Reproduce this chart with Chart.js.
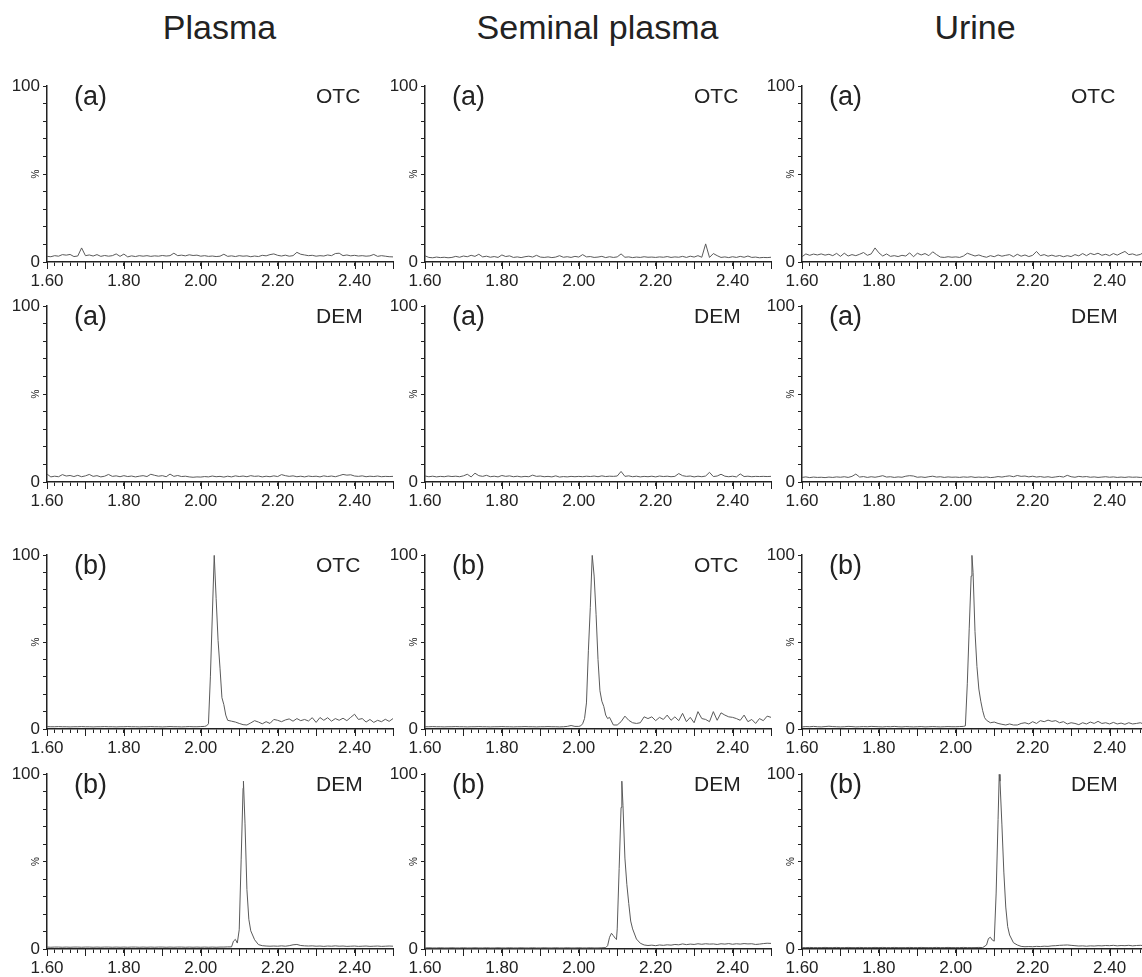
<!DOCTYPE html>
<html>
<head>
<meta charset="utf-8">
<script src="https://cdn.jsdelivr.net/npm/chart.js@4"></script>
<style>
  body { margin: 0; width: 1142px; height: 977px; overflow: hidden; background: #fff; position: relative;
         font-family: "Liberation Sans", Arial, sans-serif; color: #222; }
  .title { position: absolute; top: 10px; width: 400px; text-align: center; font-size: 34px; line-height: 34px; }
  canvas { position: absolute; }
</style>
</head>
<body>
<script>
// retention time grid (min), 0.01 step
var rt = Array.from({ length: 91 }, (_, i) => +(1.6 + i * 0.01).toFixed(2));

var columnTitles = ['Plasma', 'Seminal plasma', 'Urine'];

// (a) blank samples, % intensity on rt grid
var plasmaOtcA = [3.2,3.0,3.6,3.3,4.2,3.9,4.3,3.1,3.4,8.0, 3.6,4.0,3.4,4.2,3.2,3.7,3.3,3.6,4.6,3.2,
  4.5,2.9,3.5,3.1,3.6,3.3,3.6,3.2,3.5,3.3, 3.7,3.4,3.6,5.0,3.6,3.9,3.5,4.1,3.7,3.9,
  3.3,3.6,3.2,3.4,3.1,3.3,4.4,3.2,3.5,3.1, 3.6,3.3,3.5,3.0,3.4,3.1,3.8,3.5,4.2,4.6,
  3.8,3.4,3.9,3.3,3.6,5.5,4.4,4.0,3.6,3.8, 3.3,3.6,3.4,4.0,3.6,4.8,5.0,3.6,4.0,3.5,
  3.8,3.4,3.6,3.3,3.5,4.3,3.2,3.6,3.3,3.0, 2.9];
var seminalOtcA = [3.5,2.6,2.4,2.8,2.5,2.7,2.4,2.6,3.2,2.7, 3.4,3.0,3.8,3.2,4.4,2.9,3.3,2.7,3.1,2.6,
  4.0,3.1,3.5,2.6,2.9,2.5,3.0,3.3,2.8,3.8, 2.8,2.6,2.9,2.5,2.8,3.6,2.7,3.0,2.6,3.2,
  2.8,4.2,2.9,3.1,2.6,2.8,3.2,2.5,3.0,2.6, 2.9,4.6,2.7,2.9,2.5,2.8,2.6,3.0,2.7,2.8,
  2.6,2.9,2.7,3.1,2.6,2.9,2.7,3.2,2.6,3.3, 2.8,3.6,2.7,10.3,2.6,4.8,3.6,2.6,2.9,2.5,
  3.0,2.6,3.2,2.7,3.4,2.6,2.8,2.4,2.6,2.5, 2.7];
var urineOtcA = [3.0,4.6,3.8,4.5,4.0,4.6,3.9,4.4,3.6,4.9, 3.2,5.0,3.4,4.2,3.6,4.4,5.4,3.8,4.6,8.0,
  5.2,3.4,4.6,3.2,3.6,3.1,3.8,3.4,5.2,3.0, 5.0,4.0,4.8,3.6,5.8,4.2,2.8,2.6,3.0,2.7,
  2.9,2.6,3.4,5.0,4.2,3.4,4.0,3.2,2.7,3.6, 3.0,4.0,3.3,3.8,4.2,3.0,4.4,3.3,4.0,3.1,
  3.8,6.0,3.6,4.2,3.3,3.9,3.2,3.7,3.0,3.6, 3.1,4.2,3.5,4.8,3.6,4.9,4.2,5.0,3.8,4.4,
  3.6,4.8,3.9,5.0,6.0,4.2,4.6,3.8,4.3,5.6, 5.0];
var plasmaDemA = [4.5,2.9,3.3,3.0,4.2,3.4,3.7,3.1,3.8,3.0, 3.5,4.3,3.2,3.6,2.9,3.3,4.3,3.2,3.5,3.0,
  3.6,3.1,3.4,2.9,3.3,3.6,3.1,4.4,3.8,3.3, 3.6,3.0,4.5,3.2,3.7,3.1,3.3,2.9,2.7,2.9,
  2.8,3.1,2.9,3.4,3.0,3.2,2.8,3.3,2.9,3.5, 3.1,3.4,3.0,3.6,3.2,3.4,2.9,3.3,3.0,3.5,
  3.1,4.2,3.6,3.2,3.5,3.0,3.3,2.9,3.4,3.1, 3.3,2.9,3.5,3.1,3.4,3.0,3.6,4.3,3.9,4.1,
  3.4,3.2,3.5,3.0,3.3,3.1,3.4,3.0,3.2,3.1, 3.2];
var seminalDemA = [3.4,3.0,3.3,2.9,3.2,3.0,3.4,3.1,3.3,3.0, 3.5,4.4,2.9,5.0,3.6,3.2,3.8,3.0,3.3,2.9,
  3.7,3.2,3.5,3.0,3.3,2.9,3.2,3.0,3.9,3.2, 3.4,3.0,3.2,2.9,3.5,2.8,3.1,2.9,3.2,3.0,
  3.2,3.0,3.3,3.1,3.4,3.0,3.5,3.1,3.3,3.2, 3.4,6.0,3.2,3.5,3.0,3.3,2.9,3.2,3.0,3.3,
  2.9,3.4,3.1,3.3,3.0,3.2,4.8,3.6,3.2,3.4, 2.9,3.3,3.0,3.4,5.5,3.1,3.4,4.4,3.3,3.0,
  3.3,2.9,4.6,3.1,3.3,3.0,3.2,3.1,3.2,3.1, 3.2];
var urineDemA = [2.6,2.9,2.5,2.8,2.6,2.7,2.5,2.8,2.6,2.9, 2.7,3.0,2.6,3.2,4.5,2.8,3.1,2.6,3.0,2.7,
  3.1,3.6,2.8,3.0,2.6,2.9,2.7,3.3,3.6,3.4, 2.7,2.9,2.6,3.0,3.3,2.8,3.0,2.6,2.9,2.7,
  2.8,2.6,2.9,2.7,3.0,2.6,2.8,2.6,2.9,2.5, 2.7,3.1,2.8,3.2,3.5,3.0,3.7,3.2,3.4,2.9,
  3.3,2.8,3.1,2.7,3.0,2.6,2.9,3.2,2.8,3.8, 3.0,2.7,3.2,2.9,3.1,2.7,2.9,2.6,2.8,3.0,
  2.7,2.9,2.6,2.8,2.6,2.9,2.7,2.8,2.6,2.7, 2.6];

// (b) spiked samples, % intensity on rt grid
var plasmaOtcB = [1.4,1.3,1.3,1.4,1.3,1.3,1.2,1.3,1.3,1.4, 1.3,1.3,1.2,1.3,1.3,1.4,1.3,1.3,1.2,1.3,
  1.3,1.4,1.3,1.3,1.2,1.3,1.3,1.4,1.3,1.3, 1.2,1.3,1.4,1.3,1.3,1.2,1.3,1.4,1.3,1.3,
  1.4,1.5,3.0,65,75,35,14,5.0,4.5,4.0, 3.2,2.5,2.3,3.5,4.8,4.0,3.0,4.2,3.2,5.5,
  5.0,4.2,5.2,5.8,4.5,6.0,4.8,5.5,4.6,6.5, 3.8,6.6,5.0,6.5,4.5,6.0,5.0,6.2,4.8,6.7,
  8.5,5.5,6.0,4.0,5.5,3.8,5.0,4.2,5.6,4.4, 6.0];
var seminalOtcB = [1.3,1.3,1.4,1.3,1.3,1.2,1.3,1.3,1.4,1.3, 1.3,1.2,1.3,1.3,1.4,1.3,1.3,1.2,1.3,1.3,
  1.4,1.3,1.3,1.2,1.3,1.3,1.4,1.3,1.3,1.2, 1.3,1.3,1.4,1.3,1.3,1.2,1.3,1.5,2.0,1.5,
  1.5,3.0,15,70,88,40,16,8.0,6.7,2.3, 2.3,4.2,7.4,5.0,3.6,3.2,3.6,7.0,6.0,7.0,
  4.8,6.7,5.5,8.0,5.0,7.0,4.8,9.0,4.2,6.7, 3.6,10,6.0,5.5,4.2,10,5.0,9.3,8.0,7.0,
  6.7,6.0,5.0,8.0,4.2,5.5,3.2,6.0,4.8,7.4, 6.7];
var urineOtcB = [1.2,1.4,1.3,1.5,1.3,1.2,1.4,1.6,1.4,1.3, 1.2,1.3,1.5,1.4,1.2,1.3,1.4,1.3,1.5,1.4,
  1.3,1.2,1.4,1.3,1.5,1.3,1.2,1.4,1.3,1.2, 1.3,1.4,1.2,1.3,1.4,1.3,1.2,1.3,1.4,1.3,
  1.3,1.4,1.5,26,88,56,23,10.5,5.0,3.6, 4.0,3.2,2.7,2.3,2.9,2.3,2.3,3.2,3.6,2.9,
  4.2,3.2,4.8,4.2,5.1,4.4,4.8,3.6,4.2,2.9, 3.6,3.2,2.5,3.6,2.9,4.0,3.2,4.4,3.2,3.6,
  2.9,3.8,2.9,3.4,2.7,3.6,2.9,3.2,3.6,2.7, 3.0];
var plasmaDemB = [1.1,1.0,1.1,1.1,1.0,1.1,1.0,1.1,1.1,1.0, 1.1,1.1,1.0,1.1,1.0,1.1,1.1,1.0,1.1,1.0,
  1.1,1.0,1.1,1.1,1.0,1.1,1.0,1.1,1.0,1.1, 1.1,1.0,1.1,1.0,1.1,1.1,1.0,1.1,1.0,1.1,
  1.0,1.1,1.0,1.1,1.0,1.1,1.1,1.2,1.2,5.5, 11,92,34,10.4,5.3,2.5,1.9,1.7,1.6,1.7,
  1.6,1.8,1.6,1.9,2.4,2.6,2.0,1.8,1.7,1.8, 1.6,1.7,1.5,1.7,1.6,1.8,1.6,1.7,1.5,1.6,
  1.7,1.5,1.6,1.7,1.5,1.6,1.7,1.5,1.6,1.7, 1.6];
var seminalDemB = [0.6,0.7,0.6,0.6,0.7,0.6,0.6,0.7,0.6,0.6, 0.7,0.6,0.6,0.7,0.6,0.6,0.7,0.6,0.6,0.7,
  0.6,0.6,0.7,0.6,0.6,0.7,0.6,0.6,0.7,0.6, 0.6,0.7,0.6,0.6,0.7,0.6,0.6,0.7,0.6,0.6,
  0.7,0.6,0.6,0.7,0.6,0.6,0.7,0.8,6.7,7.6, 11.5,81,52,26,11.5,5.7,3.3,2.3,2.0,2.2,
  1.9,2.3,2.1,2.4,2.2,2.6,2.4,2.9,2.5,2.8, 2.6,3.0,2.7,3.0,2.8,2.9,2.6,3.0,2.8,3.1,
  2.7,3.0,2.8,3.1,2.9,3.0,2.6,2.8,3.1,3.3, 3.2];
var urineDemB = [0.8,0.8,0.9,0.8,0.8,0.8,0.9,0.8,0.8,0.9, 0.8,0.8,0.9,0.8,0.8,0.9,0.8,0.8,0.8,0.9,
  0.8,0.9,0.8,0.8,0.9,0.8,0.8,0.8,0.9,0.8, 0.8,0.9,0.8,0.8,0.8,0.9,0.8,0.8,0.9,0.8,
  0.8,0.8,0.9,0.8,0.8,0.8,0.9,0.8,2.3,6.7, 4.5,74,71,24,8.0,3.6,2.3,1.5,1.3,1.4,
  1.3,1.5,1.4,1.6,1.5,1.8,1.9,2.1,2.2,2.3, 2.1,1.9,1.7,1.8,1.6,1.8,1.7,1.9,1.8,2.0,
  1.9,2.1,1.8,2.0,1.9,2.1,1.8,2.0,2.1,1.9, 2.0];

// extra samples across the peaks (between grid points)
var plasmaOtcPeakT = [2.015, 2.025, 2.035, 2.045, 2.055, 2.065];
var plasmaOtcPeakY = [1.8, 30, 100, 51, 18, 8];
var seminalOtcPeakT = [2.005, 2.015, 2.025, 2.035, 2.045, 2.055, 2.065, 2.075];
var seminalOtcPeakY = [1.8, 6, 45, 100, 66, 22, 13, 6];
var urineOtcPeakT = [2.025, 2.035, 2.042, 2.045, 2.055, 2.065, 2.075];
var urineOtcPeakY = [1.8, 58, 100, 90, 36, 16, 6.5];
var plasmaDemPeakT = [2.085, 2.095, 2.105, 2.111, 2.115, 2.125];
var plasmaDemPeakY = [4.5, 3.4, 51, 96, 72, 17];
var seminalDemPeakT = [2.075, 2.085, 2.095, 2.098, 2.105, 2.112, 2.115, 2.125, 2.135];
var seminalDemPeakY = [1.9, 9, 6.1, 5.4, 46, 96, 82, 37, 16];
var urineDemPeakT = [2.085, 2.095, 2.105, 2.113, 2.115, 2.125, 2.135];
var urineDemPeakY = [6, 5.1, 32, 100, 96, 44, 12.8];

var FONT = '"Liberation Sans", Arial, sans-serif';
Chart.defaults.font.family = FONT;
Chart.defaults.color = '#222';

function trace(vals, peakT, peakY) {
  var pts = rt.map((t, i) => ({ x: t, y: vals[i] }));
  if (peakT) peakT.forEach((t, i) => pts.push({ x: t, y: peakY[i] }));
  return pts.sort((a, b) => a.x - b.x);
}

function onStep(v, step) {
  return Math.abs(v / step - Math.round(v / step)) < 1e-6;
}

// corner labels, "%" and the longer ticks every 0.1 min
var panelText = {
  id: 'panelText',
  afterDraw(chart, args, opts) {
    var ctx = chart.ctx, a = chart.chartArea, x = chart.scales.x, y = chart.scales.y;
    ctx.save();
    ctx.strokeStyle = '#222';
    ctx.lineWidth = 1;
    x.ticks.forEach(t => {
      if (!onStep(t.value, 0.1)) return;
      var px = Math.round(x.getPixelForValue(t.value)) + 0.5;
      ctx.beginPath(); ctx.moveTo(px, a.bottom); ctx.lineTo(px, a.bottom + 7); ctx.stroke();
    });
    ctx.fillStyle = '#222';
    ctx.textBaseline = 'alphabetic';
    ctx.textAlign = 'left';
    ctx.font = '27px ' + FONT;
    ctx.fillText(opts.tag, a.left + 27, a.top + 19);
    if (opts.drug) {
      ctx.font = '21px ' + FONT;
      ctx.fillText(opts.drug, a.left + 269, a.top + 17);
    }
    ctx.translate(a.left - 11, y.getPixelForValue(50));
    ctx.rotate(-Math.PI / 2);
    ctx.font = '10px ' + FONT;
    ctx.textAlign = 'center';
    ctx.textBaseline = 'middle';
    ctx.fillText('%', 0, 0);
    ctx.restore();
  }
};

var axisX = [46.5, 424.5, 802];
var rowTop = [85, 305, 554, 773];
var rowBottom = [262, 482, 729, 949];
var PAD_L = 44, PAD_T = 12, PAD_R = 12, X_H = 34;

var panels = [
  { row: 0, col: 0, tag: '(a)', drug: 'OTC', data: trace(plasmaOtcA) },
  { row: 0, col: 1, tag: '(a)', drug: 'OTC', data: trace(seminalOtcA) },
  { row: 0, col: 2, tag: '(a)', drug: 'OTC', data: trace(urineOtcA) },
  { row: 1, col: 0, tag: '(a)', drug: 'DEM', data: trace(plasmaDemA) },
  { row: 1, col: 1, tag: '(a)', drug: 'DEM', data: trace(seminalDemA) },
  { row: 1, col: 2, tag: '(a)', drug: 'DEM', data: trace(urineDemA) },
  { row: 2, col: 0, tag: '(b)', drug: 'OTC', data: trace(plasmaOtcB, plasmaOtcPeakT, plasmaOtcPeakY) },
  { row: 2, col: 1, tag: '(b)', drug: 'OTC', data: trace(seminalOtcB, seminalOtcPeakT, seminalOtcPeakY) },
  { row: 2, col: 2, tag: '(b)', drug: '', data: trace(urineOtcB, urineOtcPeakT, urineOtcPeakY) },
  { row: 3, col: 0, tag: '(b)', drug: 'DEM', data: trace(plasmaDemB, plasmaDemPeakT, plasmaDemPeakY) },
  { row: 3, col: 1, tag: '(b)', drug: 'DEM', data: trace(seminalDemB, seminalDemPeakT, seminalDemPeakY) },
  { row: 3, col: 2, tag: '(b)', drug: 'DEM', data: trace(urineDemB, urineDemPeakT, urineDemPeakY) }
];

columnTitles.forEach((t, c) => {
  var d = document.createElement('div');
  d.className = 'title';
  d.textContent = t;
  d.style.left = (axisX[c] + 173 - 200) + 'px';
  document.body.appendChild(d);
});

panels.forEach(p => {
  var cv = document.createElement('canvas');
  var h = rowBottom[p.row] - rowTop[p.row];
  cv.width = PAD_L + 346 + PAD_R;
  cv.height = PAD_T + h + X_H;
  cv.style.left = (axisX[p.col] - PAD_L) + 'px';
  cv.style.top = (rowTop[p.row] - PAD_T) + 'px';
  document.body.appendChild(cv);

  new Chart(cv.getContext('2d'), {
    type: 'line',
    data: {
      datasets: [{
        data: p.data,
        borderColor: '#5a5a5a',
        borderWidth: 1,
        pointRadius: 0,
        tension: 0,
        fill: false
      }]
    },
    options: {
      responsive: false,
      animation: false,
      devicePixelRatio: 1,
      layout: { padding: { top: PAD_T, right: PAD_R, left: 0, bottom: 0 } },
      plugins: {
        legend: { display: false },
        tooltip: { enabled: false },
        panelText: { tag: p.tag, drug: p.drug }
      },
      scales: {
        x: {
          type: 'linear',
          min: 1.6,
          max: 2.5,
          afterFit: s => { s.height = X_H; },
          border: { color: '#222', width: 1.5 },
          grid: { drawOnChartArea: false, tickLength: 4, tickColor: '#222', tickWidth: 1 },
          ticks: {
            stepSize: 0.02,
            autoSkip: false,
            maxRotation: 0,
            padding: 5,
            font: { size: 17 },
            callback: v => onStep(v, 0.2) ? v.toFixed(2) : ''
          }
        },
        y: {
          min: 0,
          max: 100,
          afterFit: s => { s.width = PAD_L; },
          border: { color: '#222', width: 1.5 },
          grid: { drawOnChartArea: false, tickLength: 4, tickColor: '#222', tickWidth: 1 },
          ticks: {
            stepSize: 10,
            autoSkip: false,
            padding: 3,
            font: { size: 17 },
            callback: v => (v === 0 || v === 100) ? String(v) : ''
          }
        }
      }
    },
    plugins: [panelText]
  });
});
</script>
</body>
</html>
